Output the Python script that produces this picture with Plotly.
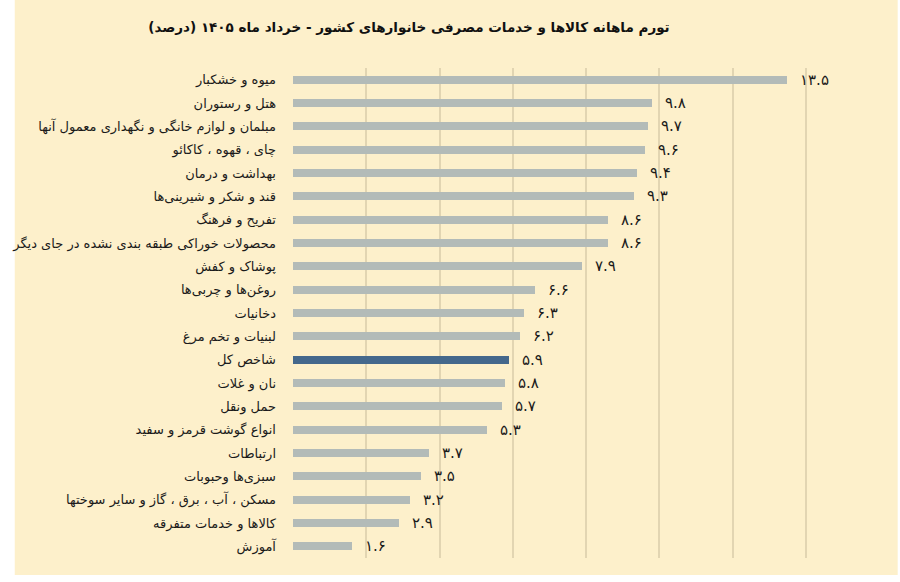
import plotly.graph_objects as go

categories = [
    "میوه و خشکبار",
    "هتل و رستوران",
    "مبلمان و لوازم خانگی و نگهداری معمول آنها",
    "چای ، قهوه ، کاکائو",
    "بهداشت و درمان",
    "قند و شکر و شیرینی‌ها",
    "تفریح و فرهنگ",
    "محصولات خوراکی طبقه بندی نشده در جای دیگر",
    "پوشاک و کفش",
    "روغن‌ها و چربی‌ها",
    "دخانیات",
    "لبنیات و تخم مرغ",
    "شاخص کل",
    "نان و غلات",
    "حمل ونقل",
    "انواع گوشت قرمز و سفید",
    "ارتباطات",
    "سبزی‌ها وحبوبات",
    "مسکن ، آب ، برق ، گاز و سایر سوختها",
    "کالاها و خدمات متفرقه",
    "آموزش",
]
values = [13.5, 9.8, 9.7, 9.6, 9.4, 9.3, 8.6, 8.6, 7.9, 6.6, 6.3, 6.2,
          5.9, 5.8, 5.7, 5.3, 3.7, 3.5, 3.2, 2.9, 1.6]
highlight = "شاخص کل"
x_ticks = [0, 2, 4, 6, 8, 10, 12, 14, 16]
title = "تورم ماهانه کالاها و خدمات مصرفی خانوارهای کشور - خرداد ماه ۱۴۰۵ (درصد)"

BG = "#FDF0CB"
GREY = "#B3BBB8"
BLUE = "#44688C"
GRID = "#E2D5B2"

fa_digits = str.maketrans("0123456789", "۰۱۲۳۴۵۶۷۸۹")


def fa(v):
    return f"{v:.1f}".translate(fa_digits)


colors = [BLUE if c == highlight else GREY for c in categories]

fig = go.Figure()
fig.add_trace(go.Bar(
    x=values, y=categories, orientation="h",
    marker=dict(color=colors, line=dict(width=0)),
    width=0.35, hoverinfo="skip",
))

for c, v in zip(categories, values):
    fig.add_annotation(
        x=v, y=c, text=fa(v), showarrow=False, xanchor="left", yanchor="middle",
        xshift=11, font=dict(family="DejaVu Sans", size=15, color="#1a1a1a"),
    )

fig.update_layout(
    width=900, height=582,
    margin=dict(l=283, r=21, t=68, b=24),
    paper_bgcolor="white",
    plot_bgcolor="rgba(0,0,0,0)",
    showlegend=False,
    bargap=0,
    title=dict(
        text="<b>" + title + "</b>", x=409 / 900, xanchor="center", xref="container",
        y=1 - 27 / 582, yanchor="middle", yref="container",
        font=dict(family="DejaVu Sans", size=13.5, color="#111111"),
    ),
    shapes=[dict(
        type="rect", xref="paper", yref="paper", layer="below",
        x0=-283 / 596, x1=(898 - 283) / 596,
        y0=(558 - 575) / 490, y1=558 / 490,
        fillcolor=BG, line=dict(width=0),
    )],
)
fig.update_xaxes(
    range=[0, 16], tickvals=x_ticks, showticklabels=False,
    showgrid=True, gridcolor=GRID, gridwidth=1.5, zeroline=False,
    showline=False, fixedrange=True,
)
fig.update_yaxes(
    categoryorder="array", categoryarray=categories, autorange="reversed",
    showgrid=False, ticks="", ticklabelstandoff=16, showline=False,
    tickfont=dict(family="DejaVu Sans", size=13, color="#1a1a1a"),
    fixedrange=True,
)

fig.write_html("out.html", config={"displayModeBar": False},
               post_script="document.body.style.margin='0';")
